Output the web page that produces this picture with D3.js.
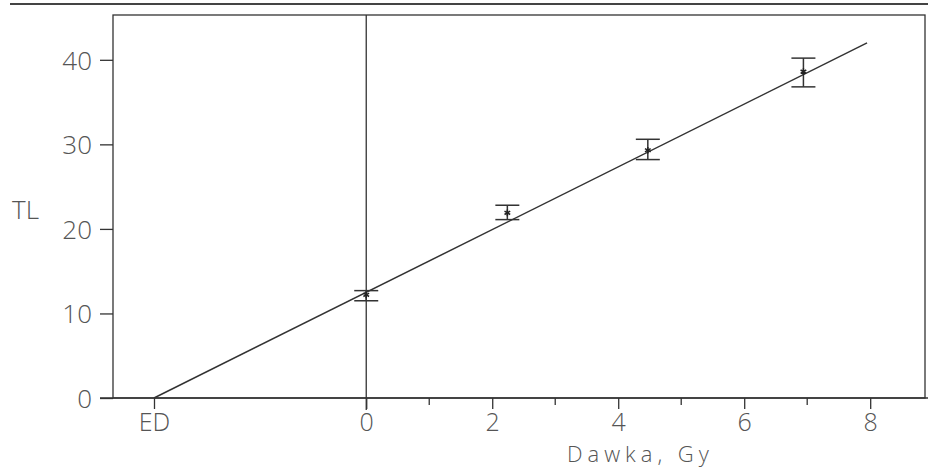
<!DOCTYPE html>
<html>
<head>
<meta charset="utf-8">
<script src="https://cdn.jsdelivr.net/npm/d3@7"></script>
<style>
  body { margin: 0; background: #fff; }
  text { font-family: "Open Sans", "DejaVu Sans", sans-serif; font-weight: 300; fill: #555; }
</style>
</head>
<body>
<div id="chart"></div>
<script>
// dose points (Gy) and measured TL with error bars
const doses = [0, 2.24, 4.47, 6.94];
const tlValues = [12.2, 21.9, 29.3, 38.6];
const errLow = [11.5, 21.1, 28.2, 36.8];
const errHigh = [12.7, 22.8, 30.6, 40.2];

// fitted line: TL = intercept + slope * dose
const intercept = 12.5;
const slope = 3.71;
const fitEnd = 7.95;
const edDose = -intercept / slope;

const yTicks = [0, 10, 20, 30, 40];
const xMajor = [0, 2, 4, 6, 8];
const xMinor = [1, 3, 5, 7];

const width = 928, height = 469;
const frame = { left: 113, right: 925, top: 15, bottom: 398 };

const svg = d3.select("#chart").append("svg")
  .attr("width", width)
  .attr("height", height);

const x = d3.scaleLinear().domain([-4.02, 8.87]).range([frame.left, frame.right]);
const y = d3.scaleLinear().domain([0, 45.3]).range([frame.bottom, frame.top]);

const ink = "#333";
const labelSize = 26;

// rule at the top of the page scan
svg.append("line")
  .attr("x1", 10).attr("x2", width)
  .attr("y1", 4).attr("y2", 4)
  .attr("stroke", "#444").attr("stroke-width", 2);

// plot frame
svg.append("rect")
  .attr("x", frame.left).attr("y", frame.top)
  .attr("width", frame.right - frame.left)
  .attr("height", frame.bottom - frame.top)
  .attr("fill", "none").attr("stroke", ink).attr("stroke-width", 1.3);

// y axis
const yAxis = svg.append("g")
  .attr("transform", `translate(${frame.left},0)`)
  .call(d3.axisLeft(y).tickValues(yTicks).tickSize(13).tickPadding(8));
yAxis.select(".domain").remove();
yAxis.selectAll("line").attr("stroke", ink).attr("stroke-width", 1.3);
yAxis.selectAll("text").attr("font-size", labelSize).attr("fill", "#555")
  .attr("font-family", null).attr("dy", "0.36em");

// x axis line extends a bit past the frame
svg.append("line")
  .attr("x1", frame.left - 13).attr("x2", width)
  .attr("y1", frame.bottom).attr("y2", frame.bottom)
  .attr("stroke", ink).attr("stroke-width", 1.3);

// x major ticks with ED marker
const xAxis = svg.append("g")
  .attr("transform", `translate(0,${frame.bottom})`)
  .call(d3.axisBottom(x).tickValues([edDose].concat(xMajor)).tickSize(11).tickPadding(4)
    .tickFormat(d => d === edDose ? "ED" : d3.format("d")(d)));
xAxis.select(".domain").remove();
xAxis.selectAll("line").attr("stroke", ink).attr("stroke-width", 1.3);
xAxis.selectAll("text").attr("font-size", 25).attr("fill", "#555").attr("font-family", null);

// minor ticks
svg.selectAll(".minor").data(xMinor).enter().append("line")
  .attr("class", "minor")
  .attr("x1", d => x(d)).attr("x2", d => x(d))
  .attr("y1", frame.bottom).attr("y2", frame.bottom + 7)
  .attr("stroke", ink).attr("stroke-width", 1.3);

// vertical line at dose 0
svg.append("line")
  .attr("x1", x(0)).attr("x2", x(0))
  .attr("y1", frame.top).attr("y2", frame.bottom + 12)
  .attr("stroke", ink).attr("stroke-width", 1.3);

// fit line
svg.append("line")
  .attr("x1", x(edDose)).attr("y1", y(0))
  .attr("x2", x(fitEnd)).attr("y2", y(intercept + slope * fitEnd))
  .attr("stroke", ink).attr("stroke-width", 1.5);

// error bars
const pts = doses.map((d, i) => ({ dose: d, tl: tlValues[i], lo: errLow[i], hi: errHigh[i] }));
const capW = 12;
const eb = svg.selectAll(".err").data(pts).enter().append("g").attr("class", "err")
  .attr("stroke", ink).attr("stroke-width", 1.5);
eb.append("line")
  .attr("x1", d => x(d.dose)).attr("x2", d => x(d.dose))
  .attr("y1", d => y(d.lo)).attr("y2", d => y(d.hi));
eb.append("line")
  .attr("x1", d => x(d.dose) - capW).attr("x2", d => x(d.dose) + capW)
  .attr("y1", d => y(d.lo)).attr("y2", d => y(d.lo));
eb.append("line")
  .attr("x1", d => x(d.dose) - capW).attr("x2", d => x(d.dose) + capW)
  .attr("y1", d => y(d.hi)).attr("y2", d => y(d.hi));

// star markers
svg.selectAll(".pt").data(pts).enter().append("path")
  .attr("class", "pt")
  .attr("d", d3.symbol().type(d3.symbolAsterisk).size(30))
  .attr("transform", d => `translate(${x(d.dose)},${y(d.tl)})`)
  .attr("stroke", "#222").attr("stroke-width", 1.5).attr("fill", "none");

// axis titles
svg.append("text")
  .attr("x", 12).attr("y", 219)
  .attr("font-size", labelSize)
  .text("TL");

svg.append("text")
  .attr("x", 567).attr("y", 462)
  .attr("font-size", 22)
  .attr("letter-spacing", 5)
  .text("Dawka, Gy");
</script>
</body>
</html>
